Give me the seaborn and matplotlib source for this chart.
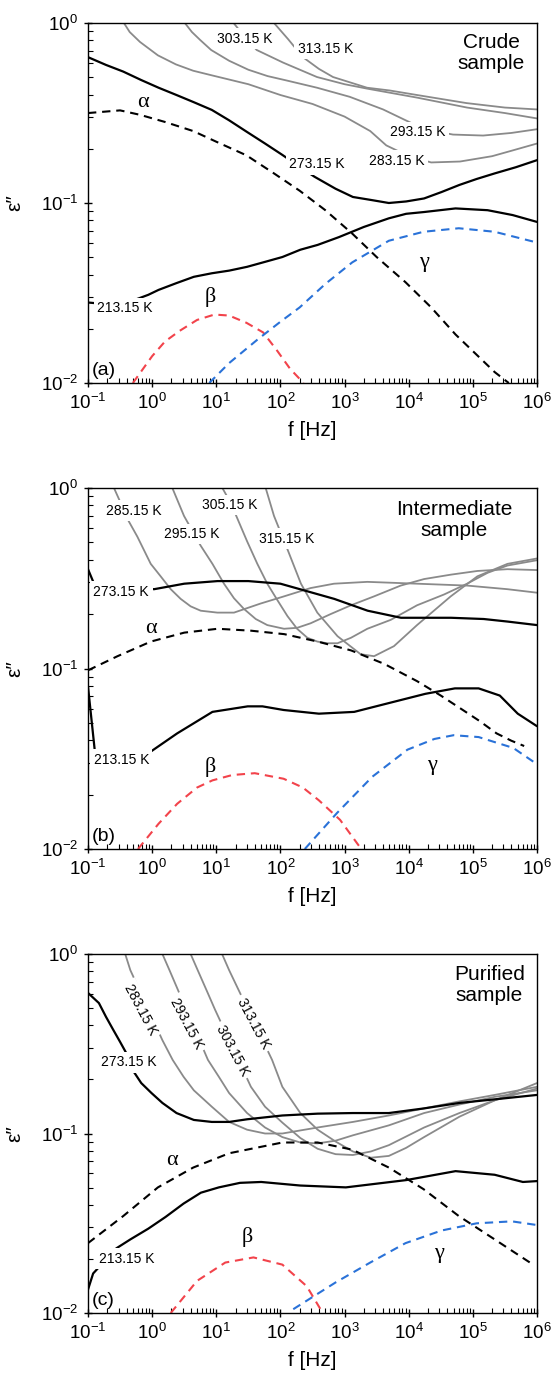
import numpy as np
import matplotlib
matplotlib.use("Agg")
import matplotlib.pyplot as plt
from matplotlib.ticker import LogLocator, NullFormatter
import seaborn as sns

# ---------------- data (f given as log10 exponents, eps'' as values) ----------------
# Panel (a) crude sample
a213_logf = [-1, -0.5, -0.06, 0.1, 0.38, 0.65, 0.93, 1.2, 1.48, 1.76, 2.03, 2.31, 2.58, 2.91, 3.3, 3.69, 3.96, 4.24, 4.73, 5.23, 5.62, 6]
a213_eps = [0.028, 0.027, 0.0309, 0.0329, 0.0359, 0.0389, 0.0407, 0.0421, 0.0442, 0.0471, 0.0501, 0.0550, 0.0585, 0.0646, 0.0736, 0.0822, 0.0871, 0.0891, 0.0933, 0.0912, 0.0857, 0.0785]
a273_logf = [-1, -0.72, -0.45, -0.17, 0.1, 0.38, 0.65, 0.93, 1.2, 1.48, 1.76, 2.03, 2.53, 2.86, 3.13, 3.41, 3.69, 3.96, 4.24, 4.51, 4.79, 5.06, 5.34, 5.67, 6]
a273_eps = [0.646, 0.585, 0.537, 0.482, 0.437, 0.398, 0.363, 0.329, 0.288, 0.248, 0.214, 0.185, 0.140, 0.120, 0.108, 0.104, 0.100, 0.102, 0.106, 0.115, 0.126, 0.136, 0.146, 0.158, 0.173]
a283_logf = [-0.44, -0.35, -0.19, 0.09, 0.37, 0.64, 0.92, 1.5, 2.0, 2.5, 3.0, 3.4, 3.65, 4.0, 4.35, 4.8, 5.3, 5.6, 6]
a283_eps = [1.0, 0.891, 0.785, 0.661, 0.589, 0.543, 0.513, 0.457, 0.398, 0.355, 0.302, 0.251, 0.209, 0.182, 0.168, 0.170, 0.182, 0.195, 0.214]
a293_logf = [0.51, 0.62, 0.75, 0.92, 1.2, 1.5, 1.8, 2.1, 2.57, 3.08, 3.6, 4.07, 4.4, 4.69, 5.16, 5.6, 6]
a293_eps = [1.0, 0.891, 0.804, 0.708, 0.617, 0.550, 0.507, 0.479, 0.437, 0.389, 0.331, 0.275, 0.251, 0.240, 0.237, 0.245, 0.257]
a303_logf = [1.27, 1.45, 1.63, 2.04, 2.57, 3.0, 3.35, 4.13, 4.91, 5.5, 6]
a303_eps = [1.0, 0.832, 0.708, 0.603, 0.501, 0.457, 0.432, 0.385, 0.339, 0.316, 0.295]
a313_logf = [1.9, 2.12, 2.35, 2.6, 2.82, 3.35, 3.7, 4.13, 4.9, 5.5, 6]
a313_eps = [1.0, 0.813, 0.646, 0.556, 0.501, 0.437, 0.422, 0.398, 0.359, 0.339, 0.331]
a_alpha_logf = [-1, -0.5, -0.19, 0.2, 0.64, 1.0, 1.47, 1.9, 2.3, 2.7, 3.12, 3.5, 3.95, 4.35, 4.73, 5.34, 5.56]
a_alpha_eps = [0.316, 0.327, 0.309, 0.282, 0.251, 0.219, 0.184, 0.146, 0.117, 0.0912, 0.0676, 0.0501, 0.0363, 0.0263, 0.0186, 0.0115, 0.0100]
a_beta_logf = [-0.3, 0.0, 0.2, 0.43, 0.7, 0.97, 1.2, 1.47, 1.73, 1.95, 2.15, 2.36]
a_beta_eps = [0.01, 0.0141, 0.0170, 0.0195, 0.0224, 0.0240, 0.0237, 0.0216, 0.0191, 0.0151, 0.0120, 0.01]
a_gamma_logf = [0.89, 1.2, 1.64, 2.0, 2.3, 2.7, 3.12, 3.69, 4.23, 4.78, 5.34, 6]
a_gamma_eps = [0.01, 0.0129, 0.0174, 0.0219, 0.0263, 0.0355, 0.0468, 0.0617, 0.0692, 0.0724, 0.0692, 0.0603]

# Panel (b) intermediate sample
b213_logf = [-1, -0.89, -0.06, 0.39, 0.94, 1.49, 1.72, 2.05, 2.6, 3.15, 3.71, 4.26, 4.72, 5.09, 5.42, 5.7, 6]
b213_eps = [0.0794, 0.0339, 0.0339, 0.0437, 0.0575, 0.0617, 0.0617, 0.0589, 0.0562, 0.0575, 0.0646, 0.0724, 0.0776, 0.0776, 0.0708, 0.0562, 0.0479]
b273_logf = [-1, -0.906, 0.03, 0.5, 1.02, 1.5, 2.0, 2.4, 2.84, 3.36, 3.88, 4.66, 5.17, 5.54, 6]
b273_eps = [0.355, 0.295, 0.275, 0.295, 0.305, 0.305, 0.295, 0.269, 0.243, 0.209, 0.191, 0.191, 0.188, 0.182, 0.174]
b285_logf = [-0.595, -0.49, -0.387, -0.23, -0.022, 0.133, 0.29, 0.445, 0.60, 0.757, 1.016, 1.276, 1.69, 2.056, 2.47, 2.835, 3.355, 4.13, 4.91, 5.54, 6]
b285_eps = [1.0, 0.826, 0.676, 0.537, 0.380, 0.324, 0.275, 0.243, 0.221, 0.209, 0.204, 0.204, 0.229, 0.251, 0.279, 0.295, 0.302, 0.295, 0.288, 0.275, 0.263]
b295_logf = [0.315, 0.497, 0.757, 0.94, 1.12, 1.276, 1.43, 1.615, 1.795, 2.056, 2.26, 2.47, 2.78, 3.10, 3.46, 3.875, 4.24, 4.655, 5.07, 5.54, 6]
b295_eps = [1.0, 0.700, 0.479, 0.380, 0.295, 0.245, 0.214, 0.188, 0.174, 0.166, 0.168, 0.178, 0.200, 0.224, 0.251, 0.288, 0.313, 0.331, 0.347, 0.355, 0.351]
b305_logf = [1.095, 1.225, 1.33, 1.48, 1.64, 1.795, 1.95, 2.11, 2.26, 2.42, 2.575, 2.73, 2.89, 3.10, 3.355, 3.72, 4.13, 4.55, 4.91, 5.23, 5.54, 6]
b305_eps = [1.0, 0.826, 0.676, 0.507, 0.380, 0.295, 0.240, 0.195, 0.166, 0.148, 0.141, 0.138, 0.138, 0.148, 0.166, 0.186, 0.224, 0.257, 0.295, 0.339, 0.372, 0.398]
b315_logf = [1.77, 1.90, 2.11, 2.32, 2.575, 2.89, 3.25, 3.46, 3.77, 4.13, 4.655, 5.07, 5.54, 6]
b315_eps = [1.0, 0.700, 0.457, 0.295, 0.204, 0.151, 0.120, 0.117, 0.133, 0.174, 0.251, 0.324, 0.380, 0.407]
b_alpha_logf = [-1, -0.54, -0.02, 0.5, 1.02, 1.54, 2.06, 2.58, 3.1, 3.62, 4.13, 4.5, 4.8, 5.1, 5.37, 5.6, 5.8]
b_alpha_eps = [0.0977, 0.117, 0.141, 0.158, 0.166, 0.162, 0.155, 0.141, 0.126, 0.106, 0.0851, 0.0708, 0.0603, 0.0513, 0.0437, 0.0398, 0.0372]
b_beta_logf = [-0.22, 0.1, 0.39, 0.7, 0.94, 1.25, 1.6, 2.05, 2.35, 2.6, 2.93, 3.26]
b_beta_eps = [0.01, 0.0138, 0.0178, 0.0219, 0.0240, 0.0257, 0.0263, 0.0245, 0.0219, 0.0186, 0.0145, 0.01]
b_gamma_logf = [2.38, 2.88, 3.43, 3.98, 4.4, 4.7, 5.09, 5.63, 6]
b_gamma_eps = [0.01, 0.0158, 0.0251, 0.0355, 0.0407, 0.0427, 0.0417, 0.0363, 0.0295]

# Panel (c) purified sample
c213_logf = [-1, -0.92, -0.56, -0.34, -0.06, 0.21, 0.49, 0.76, 1.04, 1.37, 1.70, 2.31, 3.02, 3.96, 4.73, 5.34, 5.78, 6]
c213_eps = [0.0135, 0.0166, 0.0229, 0.0257, 0.0295, 0.0343, 0.0407, 0.0468, 0.0501, 0.0531, 0.0537, 0.0513, 0.0501, 0.0550, 0.0617, 0.0589, 0.0537, 0.0543]
c273_logf = [-1, -0.83, -0.72, -0.61, -0.50, -0.39, -0.28, -0.17, -0.01, 0.16, 0.38, 0.65, 0.93, 1.2, 1.48, 2.03, 2.58, 3.13, 3.69, 4.24, 4.79, 5.34, 6]
c273_eps = [0.607, 0.533, 0.447, 0.380, 0.324, 0.275, 0.219, 0.191, 0.168, 0.148, 0.130, 0.119, 0.116, 0.116, 0.120, 0.126, 0.129, 0.130, 0.130, 0.138, 0.148, 0.155, 0.164]
c283_logf = [-0.42, -0.34, 0.16, 0.32, 0.49, 0.65, 0.93, 1.2, 1.48, 1.76, 2.03, 2.58, 3.13, 3.69, 4.24, 4.79, 5.34, 6]
c283_eps = [1.0, 0.813, 0.331, 0.257, 0.207, 0.174, 0.141, 0.116, 0.105, 0.100, 0.100, 0.108, 0.116, 0.126, 0.138, 0.151, 0.164, 0.182]
c293_logf = [0.16, 0.27, 0.87, 1.04, 1.2, 1.48, 1.76, 2.03, 2.31, 2.58, 2.86, 3.13, 3.69, 4.24, 4.79, 5.34, 6]
c293_eps = [1.0, 0.813, 0.257, 0.207, 0.168, 0.130, 0.108, 0.0955, 0.0891, 0.0881, 0.0912, 0.0977, 0.111, 0.130, 0.145, 0.160, 0.174]
c303_logf = [0.6, 0.71, 0.87, 0.98, 1.54, 1.76, 2.03, 2.31, 2.58, 2.86, 3.13, 3.41, 3.69, 4.24, 4.79, 5.34, 6]
c303_eps = [1.0, 0.813, 0.603, 0.490, 0.182, 0.141, 0.115, 0.0944, 0.0822, 0.0767, 0.0759, 0.0794, 0.0861, 0.108, 0.130, 0.153, 0.178]
c313_logf = [1.09, 1.2, 1.32, 1.87, 2.03, 2.31, 2.58, 2.86, 3.13, 3.41, 3.69, 3.96, 4.24, 4.79, 5.34, 6]
c313_eps = [1.0, 0.813, 0.661, 0.257, 0.182, 0.130, 0.105, 0.0902, 0.0794, 0.0733, 0.0750, 0.0832, 0.0955, 0.124, 0.153, 0.191]
c_alpha_logf = [-1, -0.45, 0.09, 0.64, 1.2, 2.03, 2.58, 3.12, 3.69, 4.23, 4.78, 5.34, 5.89]
c_alpha_eps = [0.0245, 0.0347, 0.0501, 0.0646, 0.0776, 0.0891, 0.0891, 0.0813, 0.0646, 0.0490, 0.0347, 0.0257, 0.0191]
c_beta_logf = [0.29, 0.7, 1.14, 1.58, 2.03, 2.41, 2.66]
c_beta_eps = [0.01, 0.0151, 0.0191, 0.0204, 0.0186, 0.0141, 0.01]
c_gamma_logf = [2.2, 2.86, 3.4, 3.95, 4.51, 5.06, 5.61, 6]
c_gamma_eps = [0.0105, 0.0148, 0.0191, 0.0245, 0.0288, 0.0316, 0.0324, 0.0309]

x_tick_exps = [-1, 0, 1, 2, 3, 4, 5, 6]
y_tick_exps = [-2, -1, 0]
panel_letters = ["(a)", "(b)", "(c)"]
sample_names = ["Crude\nsample", "Intermediate\nsample", "Purified\nsample"]

# temperature labels: (text, f, eps, rotation)
temp_labels = [
    [("303.15 K", 27.5, 0.82, 0), ("313.15 K", 500, 0.72, 0), ("293.15 K", 1.4e4, 0.248, 0),
     ("283.15 K", 6.6e3, 0.172, 0), ("273.15 K", 370, 0.164, 0), ("213.15 K", 0.38, 0.026, 0)],
    [("285.15 K", 0.52, 0.746, 0), ("295.15 K", 4.2, 0.556, 0), ("305.15 K", 16, 0.805, 0),
     ("315.15 K", 123, 0.525, 0), ("273.15 K", 0.33, 0.266, 0), ("213.15 K", 0.33, 0.0313, 0)],
    [("283.15 K", 0.65, 0.49, -62), ("293.15 K", 3.5, 0.41, -62), ("303.15 K", 17.8, 0.29, -62),
     ("313.15 K", 38, 0.41, -62), ("273.15 K", 0.43, 0.25, 0), ("213.15 K", 0.4, 0.020, 0)],
]
greek_labels = [
    [("α", 0.71, 0.36), ("β", 8.1, 0.030), ("γ", 1.7e4, 0.047)],
    [("α", 0.95, 0.167), ("β", 8.1, 0.0285), ("γ", 2.3e4, 0.029)],
    [("α", 2.0, 0.071), ("β", 30, 0.0265), ("γ", 3.0e4, 0.0215)],
]

# ---------------- style ----------------
sns.set_style("ticks")
plt.rcParams["font.family"] = ["Liberation Sans", "DejaVu Sans"]
plt.rcParams["mathtext.fontset"] = "custom"
plt.rcParams["mathtext.rm"] = "Liberation Sans"
plt.rcParams["mathtext.it"] = "Liberation Sans:italic"
plt.rcParams["mathtext.default"] = "regular"
for key in ["text.color", "axes.labelcolor", "xtick.color", "ytick.color", "axes.edgecolor"]:
    plt.rcParams[key] = "black"

BLACK = "#000000"
GRAY = "#8a8a8a"
RED = "#f2434b"
BLUE = "#2a72d8"
DASH = (0, (4.0, 2.8))

fig = plt.figure(figsize=(5.54, 13.86), dpi=100)
W = 554.0
H = 1386.0
panel_px = [(88, 23, 537, 383), (88, 488, 537, 849), (88, 954, 537, 1313)]
axes = []
for (x0, y0, x1, y1) in panel_px:
    axes.append(fig.add_axes([x0 / W, 1 - y1 / H, (x1 - x0) / W, (y1 - y0) / H]))

sample_xy = [(0.898, 0.972), (0.815, 0.967), (0.894, 0.97)]


def curve(ax, logf, eps, color, lw, ls="-"):
    f = np.power(10.0, np.asarray(logf, dtype=float))
    sns.lineplot(x=f, y=np.asarray(eps, dtype=float), ax=ax, color=color, lw=lw,
                 linestyle=ls, sort=False, estimator=None, legend=False, zorder=2)


panels = [
    dict(black=[(a213_logf, a213_eps), (a273_logf, a273_eps)],
         gray=[(a283_logf, a283_eps), (a293_logf, a293_eps), (a303_logf, a303_eps), (a313_logf, a313_eps)],
         alpha=(a_alpha_logf, a_alpha_eps), beta=(a_beta_logf, a_beta_eps), gamma=(a_gamma_logf, a_gamma_eps)),
    dict(black=[(b213_logf, b213_eps), (b273_logf, b273_eps)],
         gray=[(b285_logf, b285_eps), (b295_logf, b295_eps), (b305_logf, b305_eps), (b315_logf, b315_eps)],
         alpha=(b_alpha_logf, b_alpha_eps), beta=(b_beta_logf, b_beta_eps), gamma=(b_gamma_logf, b_gamma_eps)),
    dict(black=[(c213_logf, c213_eps), (c273_logf, c273_eps)],
         gray=[(c283_logf, c283_eps), (c293_logf, c293_eps), (c303_logf, c303_eps), (c313_logf, c313_eps)],
         alpha=(c_alpha_logf, c_alpha_eps), beta=(c_beta_logf, c_beta_eps), gamma=(c_gamma_logf, c_gamma_eps)),
]

for i, ax in enumerate(axes):
    p = panels[i]
    for lf, ep in p["gray"]:
        curve(ax, lf, ep, GRAY, 1.3)
    for lf, ep in p["black"]:
        curve(ax, lf, ep, BLACK, 1.6)
    curve(ax, *p["alpha"], BLACK, 1.5, DASH)
    curve(ax, *p["beta"], RED, 1.5, DASH)
    curve(ax, *p["gamma"], BLUE, 1.5, DASH)

    ax.set_xscale("log")
    ax.set_yscale("log")
    ax.set_xlim(0.1, 1e6)
    ax.set_ylim(0.01, 1.0)
    ax.set_xticks([10.0 ** k for k in x_tick_exps])
    ax.set_yticks([10.0 ** k for k in y_tick_exps])
    ax.xaxis.set_minor_locator(LogLocator(base=10, subs=np.arange(2, 10), numticks=30))
    ax.yaxis.set_minor_locator(LogLocator(base=10, subs=np.arange(2, 10), numticks=30))
    ax.xaxis.set_minor_formatter(NullFormatter())
    ax.yaxis.set_minor_formatter(NullFormatter())
    ax.tick_params(which="major", direction="inout", length=6, width=1.0, labelsize=13.5, pad=4)
    ax.tick_params(which="minor", direction="in", length=3.5, width=0.8)
    for s in ax.spines.values():
        s.set_linewidth(1.0)
    ax.set_xlabel("f [Hz]", fontsize=15, labelpad=6)
    ax.set_ylabel("ε\u2033", fontsize=15, family=["Liberation Sans", "DejaVu Sans"])
    ax.yaxis.set_label_coords(-0.142, 0.5)

    for txt, fx, ey, rot in temp_labels[i]:
        ax.text(fx, ey, txt, fontsize=10, ha="center", va="center", rotation=rot,
                rotation_mode="anchor", zorder=5,
                bbox=dict(boxstyle="square,pad=0.25", fc="white", ec="none"))
    for g, fx, ey in greek_labels[i]:
        ax.text(fx, ey, g, fontsize=16, ha="center", va="center",
                family=["Liberation Serif", "DejaVu Serif"], zorder=5)
    sx, sy = sample_xy[i]
    ax.text(sx, sy, sample_names[i], transform=ax.transAxes, fontsize=15, ha="center", va="top",
            multialignment="center", linespacing=1.15, zorder=6)
    ax.text(0.009, 0.012, panel_letters[i], transform=ax.transAxes, fontsize=14,
            ha="left", va="bottom", zorder=6)

fig.savefig("out.png", dpi=100)
